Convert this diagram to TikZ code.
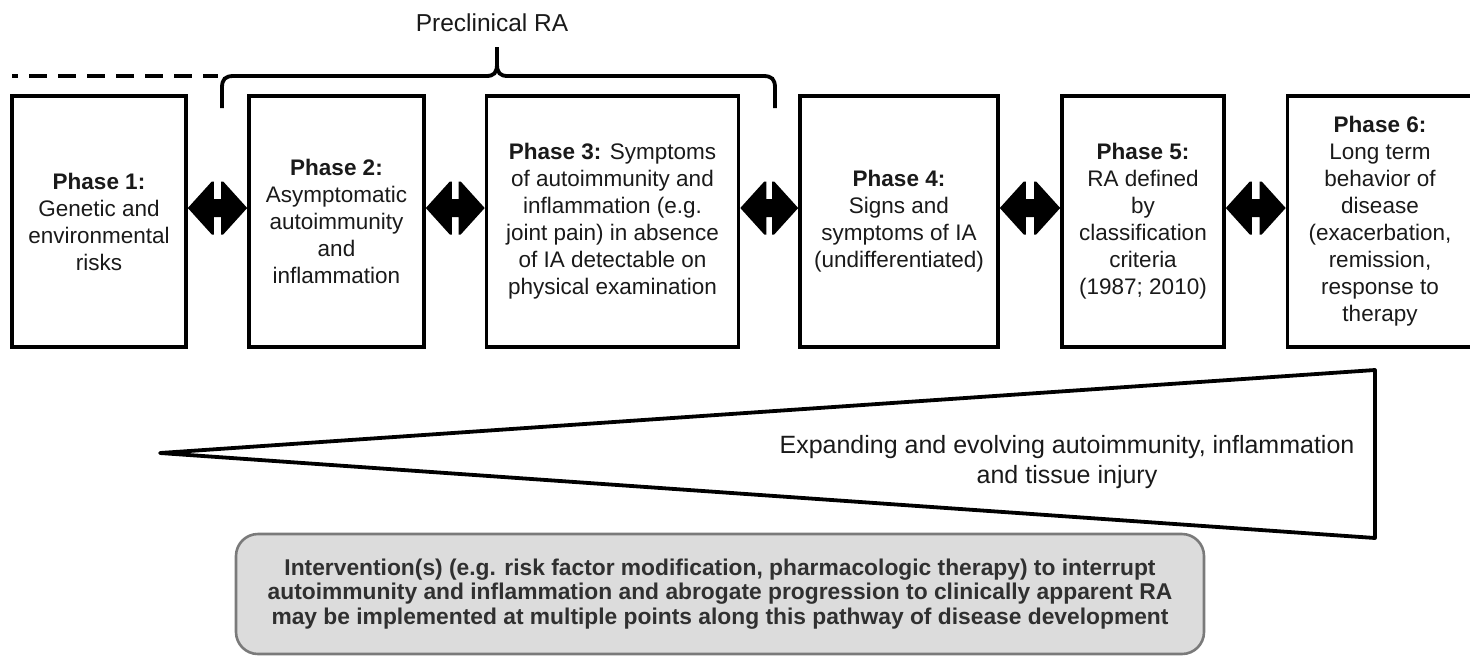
\documentclass[tikz,border=0pt]{standalone}
\usepackage{fontspec}
\setmainfont{Liberation Sans}
\usetikzlibrary{calc}
\definecolor{txt}{HTML}{1A1A1A}
\definecolor{boxgray}{HTML}{DCDCDC}
\definecolor{edgegray}{HTML}{7A7A7A}
\definecolor{btxt}{HTML}{303030}
\tikzset{
  phasebox/.style={draw=black, line width=3.6pt, fill=white, inner sep=0pt,
    minimum height=251pt, align=center, text=txt,
    font=\fontsize{22.5}{27}\selectfont},
  blockarr/.style={fill=black},
  bracket/.style={line width=3.8pt, line cap=butt},
}
\newcommand\dblarr[2]{%
  \fill[blockarr] let \p1=([yshift=13.5pt]#1.east), \p2=([yshift=13.5pt]#2.west) in
    (\x1,\y1) -- (\x1+24pt,\y1+26.5pt) -- (\x1+26pt,\y1+26.5pt) -- (\x1+26pt,\y1+9pt) -- (\x2-26pt,\y1+9pt)
    -- (\x2-26pt,\y1+26.5pt) -- (\x2-24pt,\y1+26.5pt) -- (\x2,\y1) -- (\x2-24pt,\y1-26.5pt) -- (\x2-26pt,\y1-26.5pt) -- (\x2-26pt,\y1-9pt)
    -- (\x1+26pt,\y1-9pt) -- (\x1+26pt,\y1-26.5pt) -- (\x1+24pt,\y1-26.5pt) -- cycle;}
\begin{document}
\begin{tikzpicture}[x=1pt,y=-1pt]
\useasboundingbox (0,0) rectangle (1470,657);
\fill[white] (0,0) rectangle (1470,657);

% preclinical label and bracket
\node[font=\fontsize{24.5}{28}\selectfont, text=txt] (pre) at (492,23) {Preclinical RA};
\coordinate (dashA) at (12,76);
\coordinate (dashB) at (218,76);
\draw[line width=3.8pt, dash pattern=on 18pt off 11pt, dash phase=12pt] (dashA) -- (dashB);
\coordinate (brL) at (222,108);
\coordinate (brM) at (497,47);
\coordinate (brR) at (775,108);
\draw[bracket] (brL) -- (222,88) .. controls (222,79) and (225,76) .. (234,76)
  -- (486,76) .. controls (494,76) and (497,73) .. (497,64) -- (brM);
\draw[bracket] (497,64) .. controls (497,73) and (500,76) .. (508,76)
  -- (763,76) .. controls (772,76) and (775,79) .. (775,88) -- (brR);

% phase boxes
\node[phasebox, minimum width=174pt] (b1) at (99,221.5)
  {\textbf{Phase 1:}\\Genetic and\\environmental\\risks};
\node[phasebox, minimum width=175pt] (b2) at (336.5,221.5)
  {\textbf{Phase 2:}\\Asymptomatic\\autoimmunity\\and\\inflammation};
\node[phasebox, minimum width=252pt] (b3) at (612.5,221.5)
  {\textbf{Phase 3:} Symptoms\\of autoimmunity and\\inflammation (e.g.\\joint pain) in absence\\of IA detectable on\\physical examination};
\node[phasebox, minimum width=198pt] (b4) at (899,221.5)
  {\textbf{Phase 4:}\\Signs and\\symptoms of IA\\(undifferentiated)};
\node[phasebox, minimum width=162pt] (b5) at (1143,221.5)
  {\textbf{Phase 5:}\\RA defined\\by\\classification\\criteria\\(1987; 2010)};
\node[phasebox, minimum width=185pt] (b6) at (1380,221.5)
  {\textbf{Phase 6:}\\Long term\\behavior of\\disease\\(exacerbation,\\remission,\\response to\\therapy};

\dblarr{b1}{b2}
\dblarr{b2}{b3}
\dblarr{b3}{b4}
\dblarr{b4}{b5}
\dblarr{b5}{b6}

% expanding wedge
\coordinate (tip) at (160,453);
\coordinate (wtop) at (1375,370);
\coordinate (wbot) at (1375,538);
\draw[line width=3.8pt, line join=round] (tip) -- (wtop) -- (wbot) -- cycle;
\node[align=center, text=txt, font=\fontsize{25}{29.5}\selectfont] (wedgetxt) at (1067,462)
  {Expanding and evolving autoimmunity, inflammation\\and tissue injury};

% intervention box
\node[draw=edgegray, line width=2.6pt, fill=boxgray, rounded corners=22pt,
  minimum width=968pt, minimum height=120pt, align=center, text=btxt,
  font=\bfseries\fontsize{22.8}{24.5}\selectfont] (interv) at (720,594)
  {Intervention(s) (e.g. risk factor modification, pharmacologic therapy) to interrupt\\
   autoimmunity and inflammation and abrogate progression to clinically apparent RA\\
   may be implemented at multiple points along this pathway of disease development};
\end{tikzpicture}
\end{document}
